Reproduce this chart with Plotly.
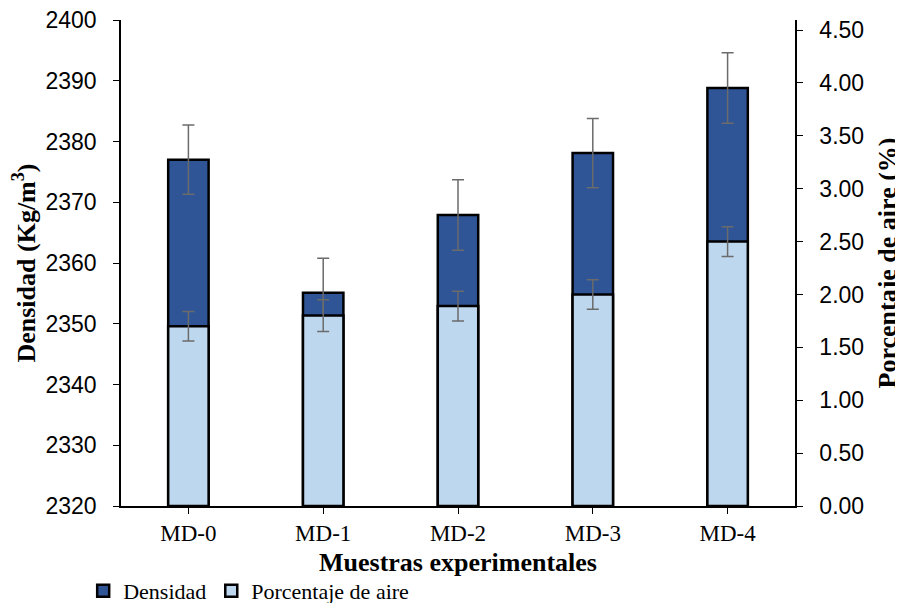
import plotly.graph_objects as go

categories = ["MD-0", "MD-1", "MD-2", "MD-3", "MD-4"]
densidad = [2377.0, 2355.1, 2367.9, 2378.1, 2388.8]
densidad_err = [5.7, 5.7, 5.8, 5.7, 5.8]
aire = [1.70, 1.80, 1.89, 2.00, 2.50]
aire_err = [0.14, 0.15, 0.14, 0.14, 0.14]
left_ticks = [2320, 2330, 2340, 2350, 2360, 2370, 2380, 2390, 2400]
right_ticks = [0, 0.5, 1.0, 1.5, 2.0, 2.5, 3.0, 3.5, 4.0, 4.5]
x_title = "Muestras experimentales"

SANS = "Liberation Sans, Arial, sans-serif"
SERIF = "Liberation Serif, Times New Roman, serif"

fig = go.Figure()
fig.add_trace(go.Bar(
    x=categories, y=densidad, name="Densidad", yaxis="y", width=0.3,
    marker=dict(color="#2F5597", line=dict(color="black", width=2.5)),
    error_y=dict(type="data", array=densidad_err, visible=True,
                 color="#6b6b6b", thickness=1.5, width=6),
))
fig.add_trace(go.Bar(
    x=categories, y=aire, name="Porcentaje de aire", yaxis="y2", width=0.3,
    marker=dict(color="#BDD7EE", line=dict(color="black", width=2.5)),
    error_y=dict(type="data", array=aire_err, visible=True,
                 color="#6b6b6b", thickness=1.5, width=6),
))

fig.add_annotation(
    text="<b>" + x_title + "</b>", xref="paper", yref="paper",
    x=0.5, y=-0.117, xanchor="center", yanchor="middle", showarrow=False,
    font=dict(family=SERIF, size=26, color="black"),
)

fig.update_layout(
    width=895, height=595, autosize=False,
    margin=dict(l=113, r=108, t=12, b=97, autoexpand=False),
    paper_bgcolor="white", plot_bgcolor="white",
    barmode="overlay",
    showlegend=True,
    legend=dict(orientation="h", xref="container", yref="container",
                x=0.084, xanchor="left", y=0.0555, yanchor="top",
                font=dict(family=SERIF, size=22, color="black"),
                traceorder="normal", itemwidth=30, bgcolor="rgba(0,0,0,0)",
                tracegroupgap=0),
    xaxis=dict(
        automargin=False,
        showline=True, linecolor="black", linewidth=1.5,
        ticks="outside", ticklen=6, tickcolor="black",
        tickfont=dict(family=SERIF, size=23, color="black"),
        ticklabeloverflow="allow",
        showgrid=False,
    ),
    yaxis=dict(
        automargin=False,
        range=[2320, 2400], tickvals=left_ticks,
        showline=True, linecolor="black", linewidth=1.5,
        ticks="outside", ticklen=6, tickcolor="black", ticklabelstandoff=12,
        tickfont=dict(family=SANS, size=23, color="black"),
        ticklabeloverflow="allow",
        title=dict(text="<b>Densidad (Kg/m<sup>3</sup>)</b>",
                   font=dict(family=SERIF, size=26, color="black")),
        showgrid=False, zeroline=False,
    ),
    yaxis2=dict(
        automargin=False,
        range=[0, 4.595], tickvals=right_ticks, tickformat=".2f",
        overlaying="y", side="right",
        showline=True, linecolor="black", linewidth=1.5,
        ticks="outside", ticklen=6, tickcolor="black", ticklabelstandoff=12,
        tickfont=dict(family=SANS, size=23, color="black"),
        ticklabeloverflow="allow",
        title=dict(text="<b>Porcentaje de aire (%)</b>",
                   font=dict(family=SERIF, size=26, color="black")),
        showgrid=False, zeroline=False,
    ),
)

fig.write_html("out.html")
